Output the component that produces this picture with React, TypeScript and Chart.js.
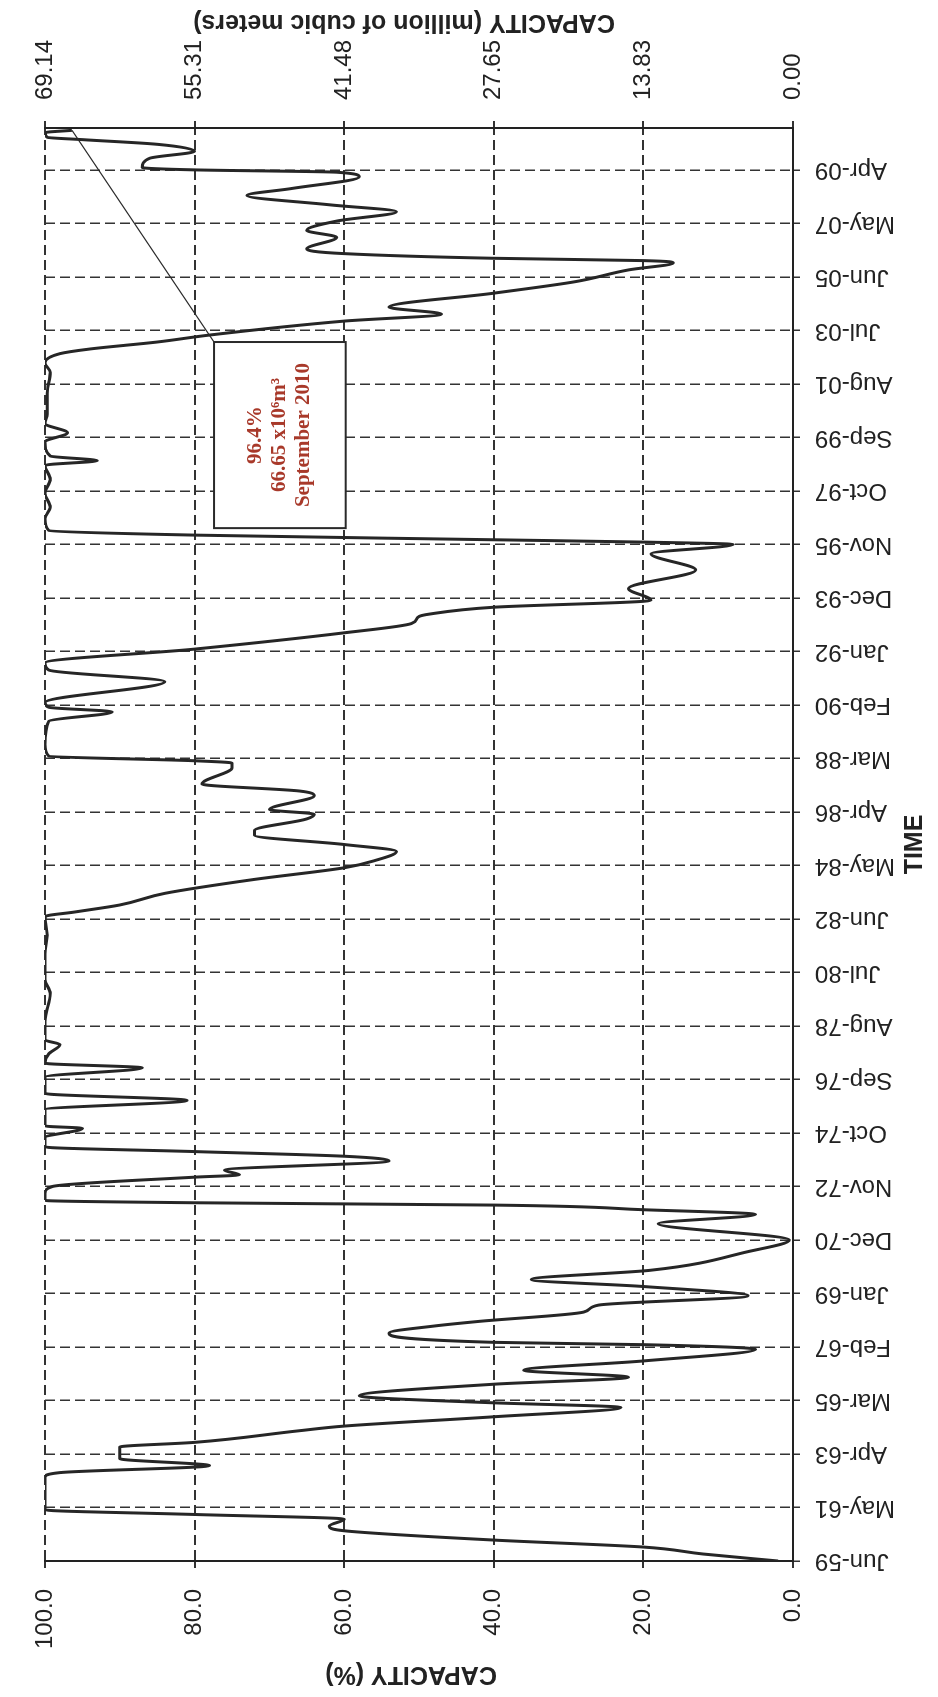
import React, { useEffect, useRef } from 'react';
import { Chart, registerables } from 'chart.js';

Chart.register(...registerables);

// Original (unrotated) chart canvas; the page shows it turned 90° counter-clockwise.
const CANVAS_W = 1697;
const CANVAS_H = 938;
const FONT = '"Liberation Sans", Arial, sans-serif';

// Time axis: months counted from Jun-1959, a labelled tick every 23 months
const tickMonths = [0, 23, 46, 69, 92, 115, 138, 161, 184, 207, 230, 253, 276, 299, 322, 345, 368, 391, 414, 437, 460, 483, 506, 529, 552, 575, 598];
const tickLabels = ['Jun-59', 'May-61', 'Apr-63', 'Mar-65', 'Feb-67', 'Jan-69', 'Dec-70', 'Nov-72', 'Oct-74', 'Sep-76', 'Aug-78', 'Jul-80', 'Jun-82', 'May-84', 'Apr-86', 'Mar-88', 'Feb-90', 'Jan-92', 'Dec-93', 'Nov-95', 'Oct-97', 'Sep-99', 'Aug-01', 'Jul-03', 'Jun-05', 'May-07', 'Apr-09'];
const monthMax = 616;

// Capacity axes
const percentTicks = [0, 20, 40, 60, 80, 100];
const volumeTickLabels = ['0.00', '13.83', '27.65', '41.48', '55.31', '69.14'];

// Series: month index (since Jun-59) and reservoir capacity (%)
const months = [0, 3, 6, 9, 13, 15, 18, 20, 22, 36, 38, 41, 44, 49, 51, 56, 58, 62, 66, 68, 70, 71, 76, 79, 82, 86, 91, 93, 94, 98, 101, 103, 107, 110, 114, 118, 121, 125, 133, 138, 145, 149, 151, 153, 154, 155, 158, 161, 165, 166, 168, 172, 174, 176, 178, 182, 186, 187, 194, 198, 201, 204, 208, 212, 214, 218, 222, 224, 232, 244, 250, 261, 269, 277, 279, 282, 287, 293, 298, 301, 305, 308, 312, 314, 319, 321, 323, 329, 331, 334, 341, 343, 344, 346, 351, 361, 365, 367, 369, 378, 383, 386, 392, 399, 403, 406, 407, 410, 413, 418, 426, 433, 437, 438, 439, 441, 443, 448, 453, 459, 465, 471, 473, 475, 481, 485, 489, 493, 502, 511, 515, 519, 521, 524, 527, 533, 536, 539, 545, 550, 555, 558, 559, 560, 562, 564, 569, 572, 576, 580, 583, 587, 590, 595, 597, 598, 599, 603, 606, 609, 611, 612, 614, 615];
const capacity = [2, 12, 20, 40, 60, 62, 60, 80, 100, 100, 98, 78, 90, 90, 80, 66, 60, 40, 23, 40, 55, 58, 40, 22, 36, 20, 5, 20, 40, 54, 48, 42, 28, 26, 6, 20, 35, 19, 6, 0.5, 18, 5, 20, 40, 80, 100, 100, 99, 80, 74, 76, 54, 60, 80, 100, 100, 95, 100, 100, 81, 100, 100, 100, 87, 100, 99.5, 98, 100, 100, 99.3, 100, 100, 99.7, 100, 96, 90, 84, 72, 60, 56, 53, 60, 72, 72, 65, 64, 70, 64, 66, 79, 75, 75, 80, 99.5, 100, 99.5, 91, 99.5, 100, 84, 99.5, 100, 80, 60, 51, 50, 48.7, 40, 19, 22, 13, 19, 8, 20, 40, 80, 99.5, 100, 99.3, 100, 99.3, 100, 93, 99.3, 100, 97, 100, 99.7, 99.7, 99.3, 100, 98, 94, 85, 78, 60, 47, 54, 40, 29, 22, 16, 20, 40, 60, 65, 61, 65, 61, 53, 62, 73, 67, 58, 61, 80, 87, 86, 80, 85, 95, 99.7, 100, 96.4];

// Annotation
const noteLines = ['96.4%', '66.65 x10\u2076m\u00B3', 'September 2010'];
const noteBoxMonths = [444, 524];
const noteBoxValues = [77.4, 59.8];

const leftTitle = 'CAPACITY (%)';
const rightTitle = 'CAPACITY (million of cubic meters)';

function drawVerticalTitle(ctx: any, text: string, cx: number, cy: number) {
  ctx.save();
  ctx.translate(cx, cy);
  ctx.rotate(-Math.PI / 2);
  ctx.fillStyle = '#222';
  ctx.font = `bold 25px ${FONT}`;
  ctx.textAlign = 'center';
  ctx.textBaseline = 'middle';
  ctx.fillText(text, 0, 0);
  ctx.restore();
}

const notePlugin = {
  id: 'notePlugin',
  afterDatasetsDraw(chart: any) {
    const { ctx, scales } = chart;
    const x = scales.x;
    const y = scales.y;
    const x0 = x.getPixelForValue(noteBoxMonths[0]);
    const x1 = x.getPixelForValue(noteBoxMonths[1]);
    const y0 = y.getPixelForValue(noteBoxValues[0]);
    const y1 = y.getPixelForValue(noteBoxValues[1]);
    const last = months.length - 1;
    const px = x.getPixelForValue(months[last]);
    const py = y.getPixelForValue(capacity[last]);
    ctx.save();
    ctx.fillStyle = '#ffffff';
    ctx.fillRect(x0, y0, x1 - x0, y1 - y0);
    ctx.strokeStyle = '#2a2a2a';
    ctx.lineWidth = 2;
    ctx.strokeRect(x0, y0, x1 - x0, y1 - y0);
    ctx.lineWidth = 1.2;
    ctx.beginPath();
    ctx.moveTo(x1, y0);
    ctx.lineTo(px, py);
    ctx.stroke();
    ctx.fillStyle = '#a8392a';
    ctx.font = 'bold 21px "Liberation Serif", "Times New Roman", serif';
    ctx.textAlign = 'center';
    ctx.textBaseline = 'middle';
    const cx = (x0 + x1) / 2;
    const cy = (y0 + y1) / 2;
    noteLines.forEach((t, i) => ctx.fillText(t, cx, cy + (i - 1) * 24));
    ctx.restore();
  },
  afterDraw(chart: any) {
    const { ctx, chartArea } = chart;
    const mid = (chartArea.top + chartArea.bottom) / 2;
    drawVerticalTitle(ctx, leftTitle, 23, mid - 8);
    drawVerticalTitle(ctx, rightTitle, chart.width - 22, mid - 15);
  },
};

export default function App() {
  const ref = useRef<HTMLCanvasElement>(null);

  useEffect(() => {
    const canvas = ref.current;
    if (!canvas) return;
    const tickFont = { family: FONT, size: 24 };
    const titleFont = { family: FONT, size: 25, weight: 'bold' as const };
    const chart = new Chart(canvas, {
      type: 'line',
      data: {
        datasets: [
          {
            data: months.map((m, i) => ({ x: m, y: capacity[i] })),
            borderColor: '#262626',
            borderWidth: 3,
            pointRadius: 0,
            cubicInterpolationMode: 'monotone',
            fill: false,
          },
        ],
      },
      options: {
        responsive: false,
        animation: false,
        devicePixelRatio: 1,
        layout: { padding: { top: 45, left: 0, right: 0, bottom: 0 } },
        plugins: { legend: { display: false }, tooltip: { enabled: false } },
        scales: {
          x: {
            type: 'linear',
            position: 'bottom',
            min: 0,
            max: monthMax,
            afterBuildTicks: (s: any) => {
              s.ticks = tickMonths.map((v) => ({ value: v }));
            },
            afterFit: (s: any) => {
              s.height = 145;
            },
            ticks: {
              autoSkip: false,
              minRotation: 90,
              maxRotation: 90,
              padding: 15,
              color: '#222',
              font: tickFont,
              callback: (v: any) => tickLabels[tickMonths.indexOf(Number(v))] ?? '',
            },
            grid: { color: '#333', lineWidth: 1.5, tickLength: 7 },
            border: { display: true, color: '#222', width: 2, dash: [10, 5] },
            title: { display: true, text: 'TIME', color: '#222', font: titleFont, padding: { top: 0, bottom: 8 } },
          },
          y: {
            type: 'linear',
            position: 'left',
            min: 0,
            max: 100,
            afterBuildTicks: (s: any) => {
              s.ticks = percentTicks.map((v) => ({ value: v }));
            },
            afterFit: (s: any) => {
              s.width = 136;
            },
            ticks: {
              padding: 21,
              color: '#222',
              font: tickFont,
              callback: (v: any) => Number(v).toFixed(1),
            },
            grid: { color: '#333', lineWidth: 2, tickLength: 7 },
            border: { display: true, color: '#222', width: 2, dash: [10, 5] },
            title: { display: false },
          },
          y2: {
            type: 'linear',
            position: 'right',
            min: 0,
            max: 100,
            afterBuildTicks: (s: any) => {
              s.ticks = percentTicks.map((v) => ({ value: v }));
            },
            afterFit: (s: any) => {
              s.width = 128;
            },
            ticks: {
              padding: 21,
              color: '#222',
              font: tickFont,
              callback: (v: any) => volumeTickLabels[percentTicks.indexOf(Number(v))] ?? '',
            },
            grid: { drawOnChartArea: false, color: '#333', lineWidth: 2, tickLength: 7 },
            border: { display: true, color: '#222', width: 2 },
            title: { display: false },
          },
        },
      },
      plugins: [notePlugin],
    } as any);
    return () => chart.destroy();
  }, []);

  return (
    <div style={{ position: 'absolute', left: 0, top: 0, width: 938, height: 1697, overflow: 'hidden', background: '#fff' }}>
      <div
        style={{
          position: 'absolute',
          left: 0,
          top: 0,
          width: CANVAS_W,
          height: CANVAS_H,
          transformOrigin: '0 0',
          transform: `translateY(${CANVAS_W}px) rotate(-90deg)`,
        }}
      >
        <canvas ref={ref} width={CANVAS_W} height={CANVAS_H} style={{ display: 'block', width: CANVAS_W, height: CANVAS_H }} />
      </div>
    </div>
  );
}
